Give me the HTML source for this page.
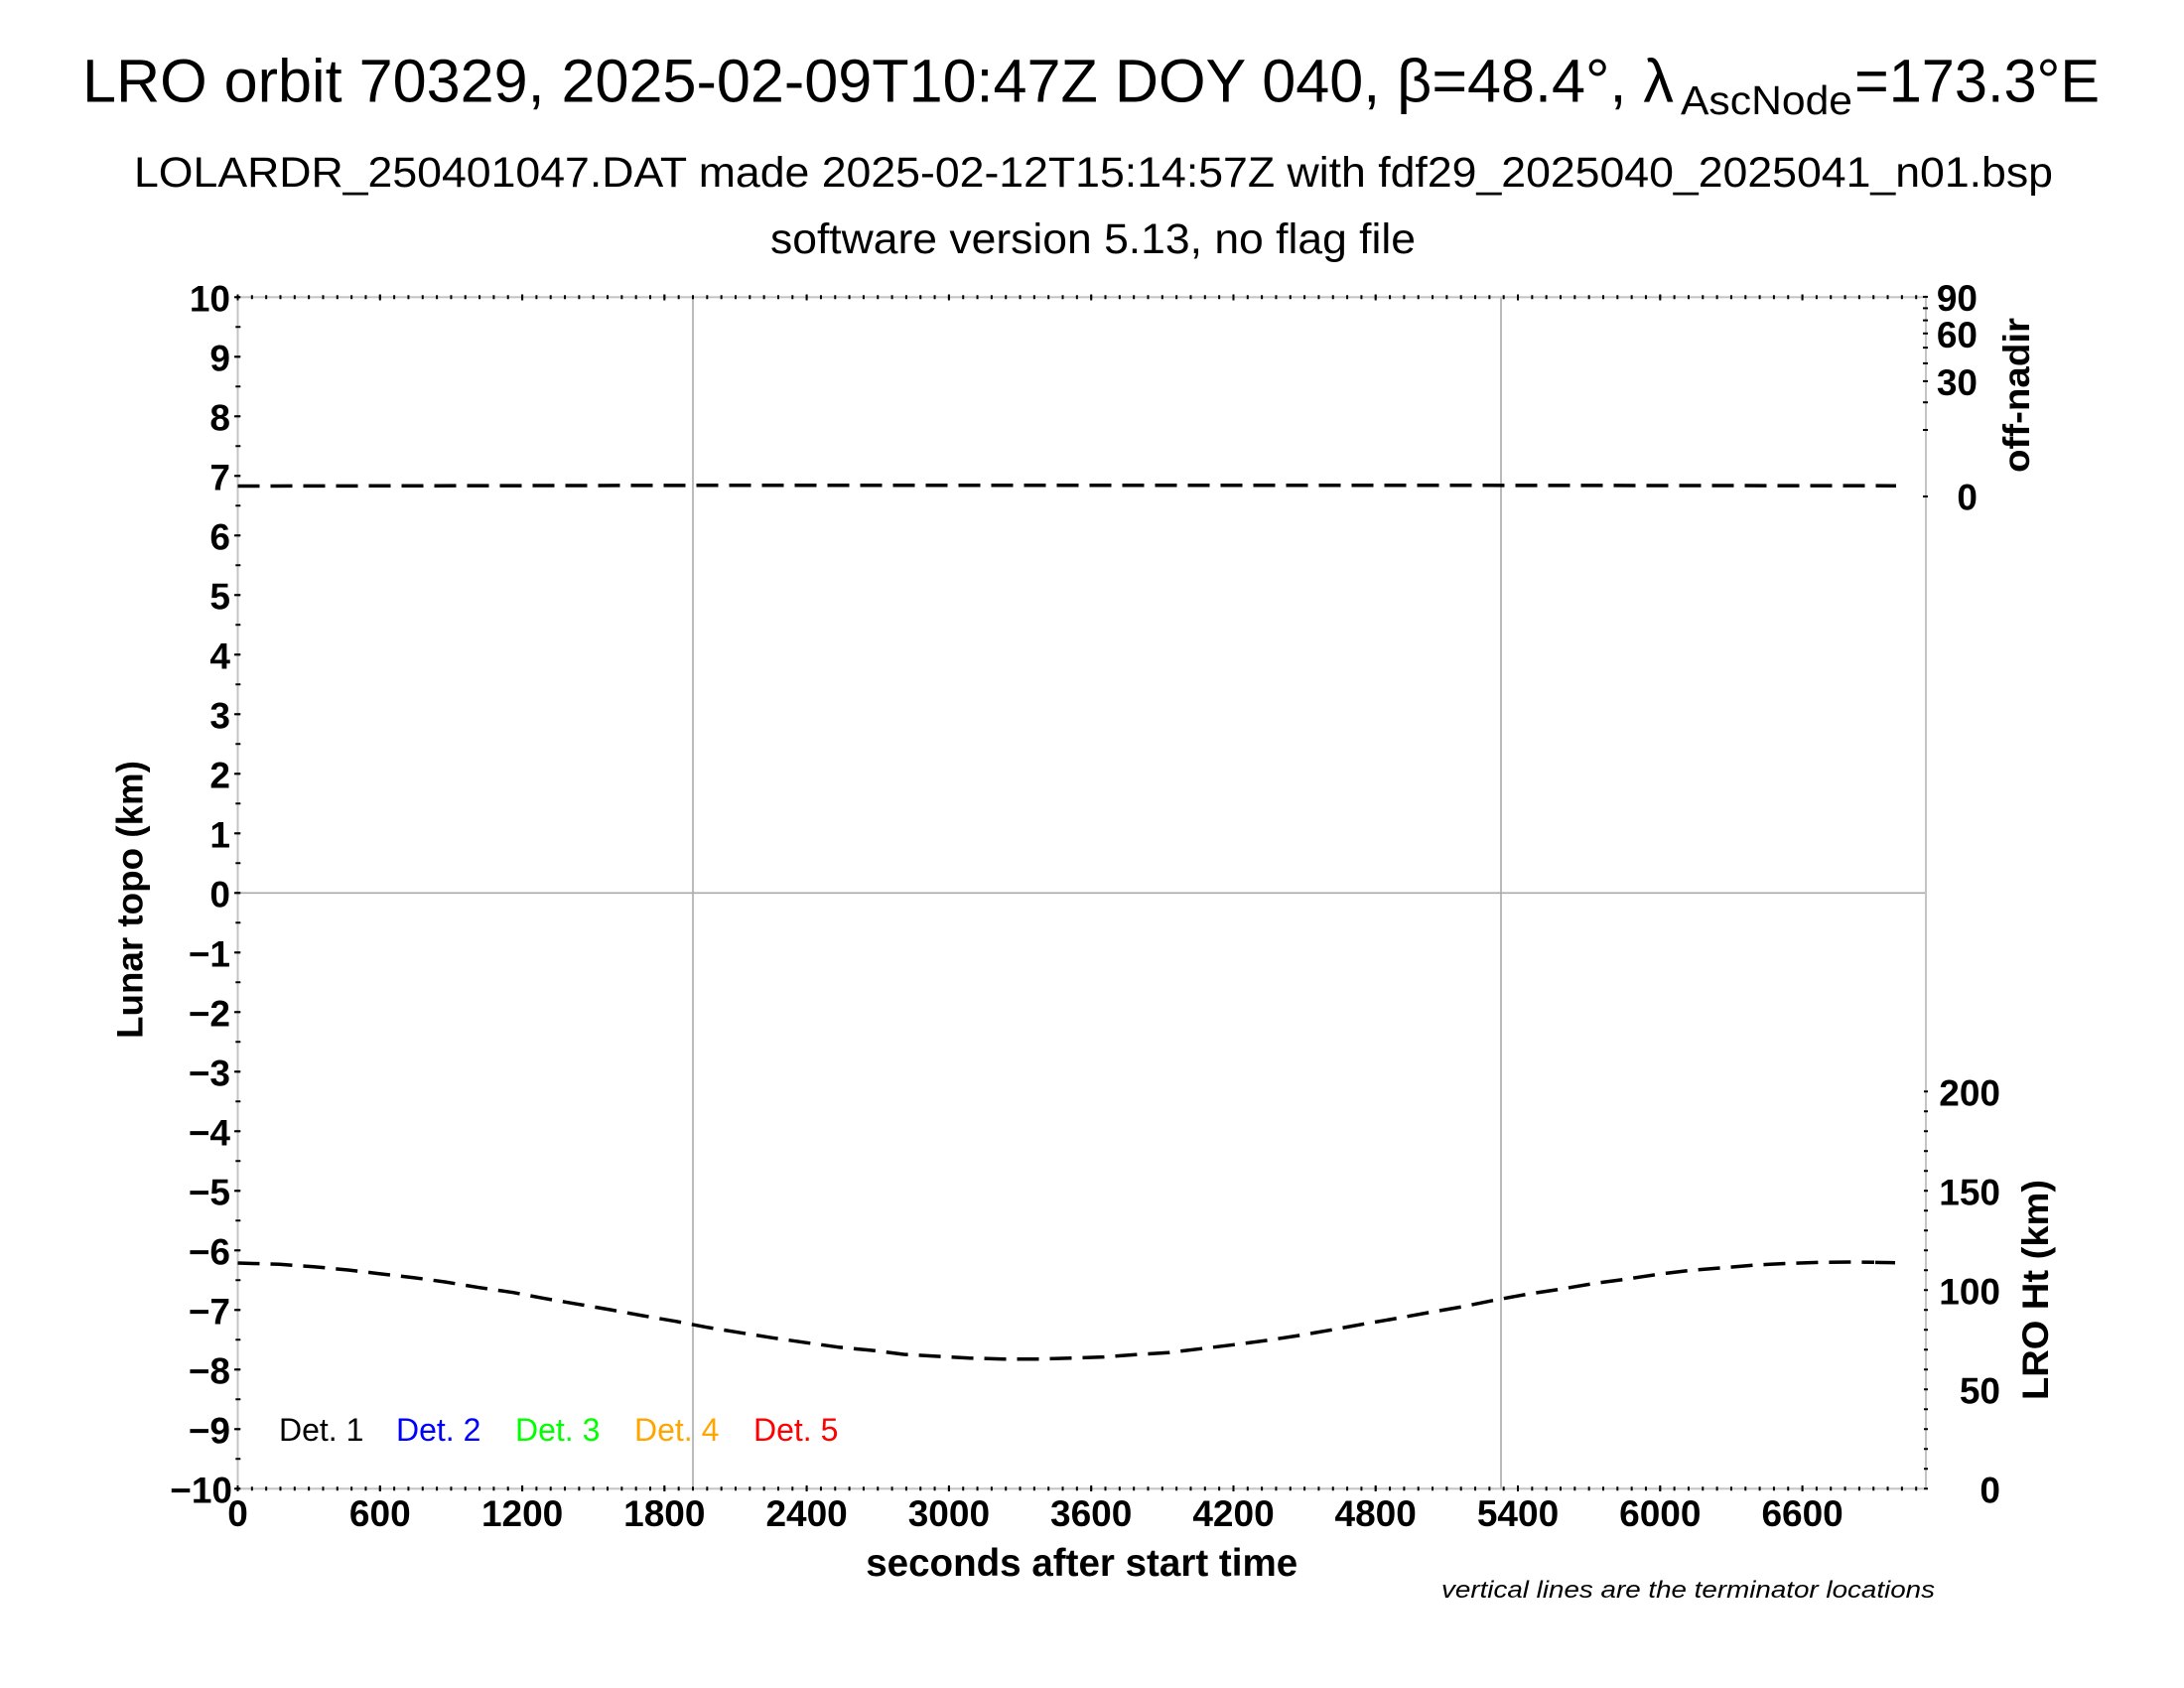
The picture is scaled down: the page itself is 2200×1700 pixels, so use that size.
<!DOCTYPE html>
<html>
<head>
<meta charset="utf-8">
<style>
html,body{margin:0;padding:0;background:#fff;}
svg{display:block;}
text{font-family:"Liberation Sans",Arial,Helvetica,sans-serif;}
</style>
</head>
<body>
<svg width="2200" height="1700" viewBox="0 0 2200 1700" xmlns="http://www.w3.org/2000/svg">
<rect x="0" y="0" width="2200" height="1700" fill="#fff"/>

<!-- Titles -->
<text x="83" y="102.5" font-size="61" textLength="1603" lengthAdjust="spacingAndGlyphs">LRO orbit 70329, 2025-02-09T10:47Z DOY 040, β=48.4°, λ</text>
<text x="1693" y="115" font-size="41" textLength="173" lengthAdjust="spacingAndGlyphs">AscNode</text>
<text x="1868" y="102.5" font-size="61" textLength="247" lengthAdjust="spacingAndGlyphs">=173.3°E</text>
<text x="135" y="188" font-size="43" textLength="1933" lengthAdjust="spacingAndGlyphs">LOLARDR_250401047.DAT made 2025-02-12T15:14:57Z with fdf29_2025040_2025041_n01.bsp</text>
<text x="776" y="255" font-size="43" textLength="650" lengthAdjust="spacingAndGlyphs">software version 5.13, no flag file</text>

<!-- grid lines -->
<line x1="239.5" y1="899.3" x2="1940" y2="899.3" stroke="#aaaaaa" stroke-width="1.6"/>
<line x1="698" y1="299.3" x2="698" y2="1499.3" stroke="#aaaaaa" stroke-width="1.6"/>
<line x1="1512" y1="299.3" x2="1512" y2="1499.3" stroke="#aaaaaa" stroke-width="1.6"/>

<!-- frame -->
<rect x="239.5" y="299.3" width="1700.5" height="1200" fill="none" stroke="#c4c4c4" stroke-width="2"/>

<!-- ticks -->
<line x1="238.5" y1="299.3" x2="1941" y2="299.3" stroke="#000" stroke-width="4" stroke-dasharray="2 12.328"/>
<line x1="238.5" y1="1499.3" x2="1941" y2="1499.3" stroke="#000" stroke-width="4" stroke-dasharray="2 12.328"/>
<line x1="239.8" y1="298.3" x2="239.8" y2="1500.5" stroke="#000" stroke-width="5" stroke-dasharray="2 28"/>
<g stroke="#000" stroke-width="2">
<line x1="236" y1="299.3" x2="242" y2="299.3"/><line x1="236" y1="359.3" x2="242" y2="359.3"/><line x1="236" y1="419.3" x2="242" y2="419.3"/><line x1="236" y1="479.3" x2="242" y2="479.3"/><line x1="236" y1="539.3" x2="242" y2="539.3"/><line x1="236" y1="599.3" x2="242" y2="599.3"/><line x1="236" y1="659.3" x2="242" y2="659.3"/><line x1="236" y1="719.3" x2="242" y2="719.3"/><line x1="236" y1="779.3" x2="242" y2="779.3"/><line x1="236" y1="839.3" x2="242" y2="839.3"/><line x1="236" y1="899.3" x2="242" y2="899.3"/><line x1="236" y1="959.3" x2="242" y2="959.3"/><line x1="236" y1="1019.3" x2="242" y2="1019.3"/><line x1="236" y1="1079.3" x2="242" y2="1079.3"/><line x1="236" y1="1139.3" x2="242" y2="1139.3"/><line x1="236" y1="1199.3" x2="242" y2="1199.3"/><line x1="236" y1="1259.3" x2="242" y2="1259.3"/><line x1="236" y1="1319.3" x2="242" y2="1319.3"/><line x1="236" y1="1379.3" x2="242" y2="1379.3"/><line x1="236" y1="1439.3" x2="242" y2="1439.3"/><line x1="236" y1="1499.3" x2="242" y2="1499.3"/>
</g>
<g stroke="#000" stroke-width="2">
<line x1="239.5" y1="1496" x2="239.5" y2="1502"/><line x1="382.8" y1="1496" x2="382.8" y2="1502"/><line x1="526.1" y1="1496" x2="526.1" y2="1502"/><line x1="669.3" y1="1496" x2="669.3" y2="1502"/><line x1="812.6" y1="1496" x2="812.6" y2="1502"/><line x1="955.9" y1="1496" x2="955.9" y2="1502"/><line x1="1099.2" y1="1496" x2="1099.2" y2="1502"/><line x1="1242.5" y1="1496" x2="1242.5" y2="1502"/><line x1="1385.7" y1="1496" x2="1385.7" y2="1502"/><line x1="1529" y1="1496" x2="1529" y2="1502"/><line x1="1672.3" y1="1496" x2="1672.3" y2="1502"/><line x1="1815.6" y1="1496" x2="1815.6" y2="1502"/>
<line x1="239.5" y1="296.5" x2="239.5" y2="302.5"/><line x1="382.8" y1="296.5" x2="382.8" y2="302.5"/><line x1="526.1" y1="296.5" x2="526.1" y2="302.5"/><line x1="669.3" y1="296.5" x2="669.3" y2="302.5"/><line x1="812.6" y1="296.5" x2="812.6" y2="302.5"/><line x1="955.9" y1="296.5" x2="955.9" y2="302.5"/><line x1="1099.2" y1="296.5" x2="1099.2" y2="302.5"/><line x1="1242.5" y1="296.5" x2="1242.5" y2="302.5"/><line x1="1385.7" y1="296.5" x2="1385.7" y2="302.5"/><line x1="1529" y1="296.5" x2="1529" y2="302.5"/><line x1="1672.3" y1="296.5" x2="1672.3" y2="302.5"/><line x1="1815.6" y1="296.5" x2="1815.6" y2="302.5"/>
</g>
<line x1="1940" y1="1098.3" x2="1940" y2="1500.5" stroke="#000" stroke-width="4" stroke-dasharray="2 18"/>
<g stroke="#000" stroke-width="2">
<line x1="1937" y1="298.9" x2="1942" y2="298.9"/>
<line x1="1937" y1="322.6" x2="1942" y2="322.6"/>
<line x1="1937" y1="310.4" x2="1942" y2="310.4"/>
<line x1="1937" y1="335.8" x2="1942" y2="335.8"/>
<line x1="1937" y1="350.1" x2="1942" y2="350.1"/>
<line x1="1937" y1="365.9" x2="1942" y2="365.9"/>
<line x1="1937" y1="383.9" x2="1942" y2="383.9"/>
<line x1="1937" y1="405.2" x2="1942" y2="405.2"/>
<line x1="1937" y1="433" x2="1942" y2="433"/>
<line x1="1937" y1="500" x2="1942" y2="500"/>
</g>

<!-- left tick labels -->
<g font-size="37" font-weight="bold" text-anchor="end" fill="#000">
<text x="232" y="313.3">10</text>
<text x="232" y="373.3">9</text>
<text x="232" y="433.3">8</text>
<text x="232" y="493.3">7</text>
<text x="232" y="553.3">6</text>
<text x="232" y="613.3">5</text>
<text x="232" y="673.3">4</text>
<text x="232" y="733.3">3</text>
<text x="232" y="793.3">2</text>
<text x="232" y="853.3">1</text>
<text x="232" y="913.3">0</text>
<text x="232" y="973.3">−1</text>
<text x="232" y="1033.3">−2</text>
<text x="232" y="1093.3">−3</text>
<text x="232" y="1153.3">−4</text>
<text x="232" y="1213.3">−5</text>
<text x="232" y="1273.3">−6</text>
<text x="232" y="1333.3">−7</text>
<text x="232" y="1393.3">−8</text>
<text x="232" y="1453.3">−9</text>
<text x="234" y="1513.3">−10</text>
</g>

<!-- bottom tick labels -->
<g font-size="37" font-weight="bold" text-anchor="middle" fill="#000">
<text x="239.5" y="1537">0</text>
<text x="382.8" y="1537">600</text>
<text x="526.1" y="1537">1200</text>
<text x="669.3" y="1537">1800</text>
<text x="812.6" y="1537">2400</text>
<text x="955.9" y="1537">3000</text>
<text x="1099.2" y="1537">3600</text>
<text x="1242.5" y="1537">4200</text>
<text x="1385.7" y="1537">4800</text>
<text x="1529" y="1537">5400</text>
<text x="1672.3" y="1537">6000</text>
<text x="1815.6" y="1537">6600</text>
</g>

<!-- right tick labels -->
<g font-size="37" font-weight="bold" text-anchor="end" fill="#000">
<text x="1992" y="313">90</text>
<text x="1992" y="349.8">60</text>
<text x="1992" y="397.9">30</text>
<text x="1992" y="513.5">0</text>
<text x="2015" y="1113.3">200</text>
<text x="2015" y="1213.3">150</text>
<text x="2015" y="1313.3">100</text>
<text x="2015" y="1413.3">50</text>
<text x="2015" y="1513.3">0</text>
</g>

<!-- axis titles -->
<text x="1089.7" y="1587" font-size="38.5" font-weight="bold" text-anchor="middle" textLength="435" lengthAdjust="spacingAndGlyphs">seconds after start time</text>
<text transform="translate(143.5,906) rotate(-90)" font-size="37" font-weight="bold" text-anchor="middle" textLength="280" lengthAdjust="spacingAndGlyphs">Lunar topo (km)</text>
<text transform="translate(2044,398) rotate(-90)" font-size="37" font-weight="bold" text-anchor="middle" textLength="156" lengthAdjust="spacingAndGlyphs">off-nadir</text>
<text transform="translate(2063,1299) rotate(-90)" font-size="37" font-weight="bold" text-anchor="middle" textLength="222" lengthAdjust="spacingAndGlyphs">LRO Ht (km)</text>

<text x="1452" y="1609" font-size="24" font-style="italic" textLength="497" lengthAdjust="spacingAndGlyphs">vertical lines are the terminator locations</text>

<!-- legend -->
<g font-size="32">
<text x="281" y="1451" fill="#000">Det. 1</text>
<text x="399" y="1451" fill="#0000ff">Det. 2</text>
<text x="519" y="1451" fill="#00ff00">Det. 3</text>
<text x="639" y="1451" fill="#ffa500">Det. 4</text>
<text x="759" y="1451" fill="#ff0000">Det. 5</text>
</g>

<!-- off-nadir dashed line -->
<polyline fill="none" stroke="#000" stroke-width="3.5" stroke-dasharray="22 11"
 points="239.5,489.5 700,488.8 1500,488.8 1910,489.2"/>

<!-- LRO height dashed curve -->
<polyline fill="none" stroke="#000" stroke-width="3.5" stroke-dasharray="22 11" stroke-linejoin="round"
 points="239.5,1272 281.7,1273.3 316,1275.7 350.5,1279 382,1282.7 416.6,1286.7 448,1291 482.6,1296.7 517,1301.7 548.6,1307.7 581.3,1313.3 614.6,1319 647.3,1325 680.6,1330.7 712,1336.7 746.6,1342.3 778,1347.3 812.7,1352.3 844.2,1356.7 878.7,1360 910.3,1364 944.7,1366 976.3,1367.7 1010.7,1368.7 1045,1368.7 1079.6,1367.7 1112,1366.6 1143.9,1364.3 1176.8,1362.3 1209.7,1358.3 1242.6,1354.3 1275.5,1350 1308.4,1345 1341.4,1339.3 1374.3,1333.3 1407.2,1327.7 1440,1321.7 1473,1316 1506,1309.3 1538.8,1303.3 1571.8,1298.3 1604.7,1292.7 1637.6,1288.3 1670.5,1283.3 1703.4,1279.3 1736.3,1276.7 1769.2,1274 1802,1272.3 1835,1271.3 1868,1271 1888,1271.3"/>
<line x1="1889" y1="1271.4" x2="1909" y2="1271.7" stroke="#000" stroke-width="3.5"/>
</svg>
</body>
</html>
